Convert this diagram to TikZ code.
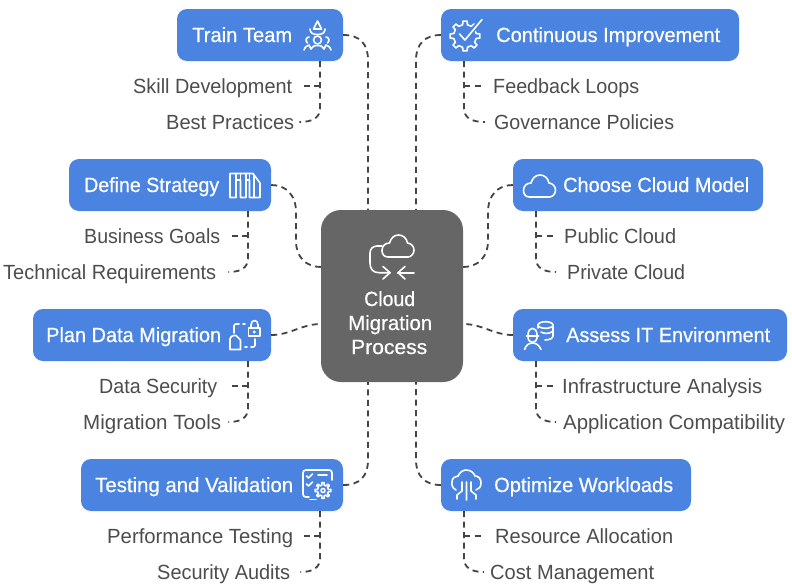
\documentclass[tikz,border=0pt]{standalone}
\usepackage{fontspec}
\usepackage{graphicx}
\setmainfont{Liberation Sans}
\newfontfamily\medfont[RawFeature={embolden=0.6}]{Liberation Sans}
\definecolor{boxblue}{HTML}{4A84E0}
\definecolor{centgray}{HTML}{666666}
\definecolor{labgray}{HTML}{4D4D4D}
\definecolor{linegray}{HTML}{444444}
\tikzset{
  bluebox/.style={draw=none,fill=boxblue,rounded corners=10pt,inner sep=0pt},
  dashline/.style={draw=linegray,line width=1.8pt,dash pattern=on 6pt off 4.5pt},
  ico/.style={draw=white,line width=1.6pt,line cap=round,line join=round},
  sublab/.style={text=labgray,font=\fontsize{20.5}{22}\selectfont},
  boxlab/.style={text=white,font=\medfont\fontsize{20.5}{22}\selectfont},
}
% name x0 x1 ycentre text
\newcommand\lbl[6][sublab]{\node[#1,anchor=base west,inner sep=0pt] (#2) at (#3,#5+7) {\resizebox{\dimexpr#4pt-#3pt\relax}{\height}{#6}};}
\newcommand\cogshape[2]{\draw[ico] (-12+0:#1) \foreach \a in {0,45,...,315} {-- (\a-12:#1) -- (\a-8:#2) -- (\a+8:#2) -- (\a+12:#1)} -- cycle;}
\newcommand\cloudshape{(6,22) .. controls (2,22) and (0,19) .. (0,15.5) .. controls (0,11) and (3,8) .. (7.5,8) .. controls (9,3) and (12,0) .. (16.5,0) .. controls (21,0) and (24.5,3) .. (25.5,8) .. controls (29,8.5) and (32,11) .. (32,15) .. controls (32,19) and (29,22) .. (26,22) -- cycle}
\begin{document}
\begin{tikzpicture}[x=1pt,y=-1pt]
\useasboundingbox[fill=white] (0,0) rectangle (792,584);

% boxes
\node[fill=centgray,rounded corners=20pt,minimum width=142pt,minimum height=172pt,inner sep=0pt] (cent) at (392,296) {};
\node[bluebox,minimum width=166pt,minimum height=52pt] (tt) at (260,35) {};
\node[bluebox,minimum width=298pt,minimum height=52pt] (ci) at (590,35) {};
\node[bluebox,minimum width=202pt,minimum height=52pt] (ds) at (170,185) {};
\node[bluebox,minimum width=250pt,minimum height=52pt] (cc) at (638,185) {};
\node[bluebox,minimum width=238pt,minimum height=52pt] (pd) at (152,335) {};
\node[bluebox,minimum width=274pt,minimum height=52pt] (ai) at (650,335) {};
\node[bluebox,minimum width=262pt,minimum height=52pt] (tv) at (212,485) {};
\node[bluebox,minimum width=250pt,minimum height=52pt] (ow) at (566,485) {};

% box labels
\lbl[boxlab]{ttl}{192}{292}{35}{Train Team}
\lbl[boxlab]{cil}{496}{720}{35}{Continuous Improvement}
\lbl[boxlab]{dsl}{84}{219}{185}{Define Strategy}
\lbl[boxlab]{ccl}{563}{749}{185}{Choose Cloud Model}
\lbl[boxlab]{pdl}{46}{221}{335}{Plan Data Migration}
\lbl[boxlab]{ail}{566}{770}{335}{Assess IT Environment}
\lbl[boxlab]{tvl}{95}{293}{485}{Testing and Validation}
\lbl[boxlab]{owl}{494}{673}{485}{Optimize Workloads}
\lbl[boxlab]{c1}{364}{415}{299}{Cloud}
\lbl[boxlab]{c2}{348}{432}{323}{Migration}
\lbl[boxlab]{c3}{351}{427}{347}{Process}

% sub labels
\lbl{a1}{133}{292}{86}{Skill Development}
\lbl{a2}{166}{294}{122}{Best Practices}
\lbl{b1}{493}{639}{86}{Feedback Loops}
\lbl{b2}{494}{674}{122}{Governance Policies}
\lbl{d1}{84}{220}{236}{Business Goals}
\lbl{d2}{3}{216}{272}{Technical Requirements}
\lbl{e1}{564}{676}{236}{Public Cloud}
\lbl{e2}{567}{685}{272}{Private Cloud}
\lbl{f1}{99}{217}{386}{Data Security}
\lbl{f2}{83}{221}{422}{Migration Tools}
\lbl{g1}{562}{762}{386}{Infrastructure Analysis}
\lbl{g2}{563}{785}{422}{Application Compatibility}
\lbl{h1}{107}{293}{536}{Performance Testing}
\lbl{h2}{157}{290}{572}{Security Audits}
\lbl{i1}{495}{673}{536}{Resource Allocation}
\lbl{i2}{490}{654}{572}{Cost Management}

% main connectors
\coordinate (xl) at (368,0);
\coordinate (xr) at (416,0);
\coordinate (lhi) at (cent.west |- 0,267);
\coordinate (rhi) at (cent.east |- 0,267);
\coordinate (lmid) at (cent.west |- 0,324);
\coordinate (rmid) at (cent.east |- 0,324);
\draw[dashline] (tt.east) .. controls (360,35) and (368,44) .. (368,60) -- (xl |- cent.north);
\draw[dashline] (ci.west) .. controls (425,35) and (416,44) .. (416,60) -- (xr |- cent.north);
\draw[dashline] (ds.east) .. controls (286,185) and (296,195) .. (296,212) -- (296,241) .. controls (296,257) and (306,267) .. (lhi);
\draw[dashline] (cc.west) .. controls (498,185) and (488,195) .. (488,212) -- (488,241) .. controls (488,257) and (478,267) .. (rhi);
\draw[dashline] (pd.east) .. controls (290,335) and (302,324) .. (lmid);
\draw[dashline] (ai.west) .. controls (494,335) and (482,324) .. (rmid);
\draw[dashline] (tv.east) .. controls (360,485) and (368,476) .. (368,460) -- (xl |- cent.south);
\draw[dashline] (ow.west) .. controls (425,485) and (416,476) .. (416,460) -- (xr |- cent.south);

% sub connectors
\coordinate (j1) at (320,86);
\draw[dashline] (j1 |- tt.south) -- (320,108) .. controls (320,117) and (314,122) .. ([xshift=5pt]a2.east |- 0,122);
\draw[dashline] (j1) -- ([xshift=10pt]a1.east |- j1);
\coordinate (j2) at (464,86);
\draw[dashline] (j2 |- ci.south) -- (464,108) .. controls (464,117) and (470,122) .. ([xshift=-9pt]b2.west |- 0,122);
\draw[dashline] (j2) -- ([xshift=-9pt]b1.west |- j2);
\coordinate (j3) at (248,236);
\draw[dashline] (j3 |- ds.south) -- (248,258) .. controls (248,267) and (242,272) .. ([xshift=12pt]d2.east |- 0,272);
\draw[dashline] (j3) -- ([xshift=9pt]d1.east |- j3);
\coordinate (j4) at (536,236);
\draw[dashline] (j4 |- cc.south) -- (536,258) .. controls (536,267) and (542,272) .. ([xshift=-11pt]e2.west |- 0,272);
\draw[dashline] (j4) -- ([xshift=-8pt]e1.west |- j4);
\coordinate (j5) at (248,386);
\draw[dashline] (j5 |- pd.south) -- (248,408) .. controls (248,417) and (242,422) .. ([xshift=7pt]f2.east |- 0,422);
\draw[dashline] (j5) -- ([xshift=13pt]f1.east |- j5);
\coordinate (j6) at (536,386);
\draw[dashline] (j6 |- ai.south) -- (536,408) .. controls (536,417) and (542,422) .. ([xshift=-7pt]g2.west |- 0,422);
\draw[dashline] (j6) -- ([xshift=-6pt]g1.west |- j6);
\coordinate (j7) at (320,536);
\draw[dashline] (j7 |- tv.south) -- (320,558) .. controls (320,567) and (314,572) .. ([xshift=10pt]h2.east |- 0,572);
\draw[dashline] (j7) -- ([xshift=9pt]h1.east |- j7);
\coordinate (j8) at (464,536);
\draw[dashline] (j8 |- ow.south) -- (464,558) .. controls (464,567) and (470,572) .. ([xshift=-6pt]i2.west |- 0,572);
\draw[dashline] (j8) -- ([xshift=-11pt]i1.west |- j8);

% --- icons ---
% centre
\begin{scope}[shift={(382,235)}]\draw[ico] \cloudshape;\end{scope}
\draw[ico] (382,246) -- (377,246) .. controls (373,246) and (370,249) .. (370,253) -- (370,263) .. controls (370,269) and (373,272.7) .. (379,272.7) -- (390,272.7);
\draw[ico] (383,266.5) -- (390,272.7) -- (383,279);
\draw[ico] (414,272.7) -- (398,272.7);
\draw[ico] (405,266.5) -- (398,272.7) -- (405,279);

% train team
\draw[ico] (317.5,21) -- (313.5,29) -- (321.5,29) -- cycle;
\draw[ico] (310,29) .. controls (310,33) and (313,34.5) .. (317.5,34.5) .. controls (322,34.5) and (325,33) .. (325,29);
\draw[ico] (317.5,40) circle[radius=4];
\draw[ico] (304,50) .. controls (305,46.5) and (307,46) .. (309,45) -- (311,49) .. controls (312,46.5) and (314,45.5) .. (317.5,45.5) .. controls (321,45.5) and (323,46.5) .. (324,49) -- (326,45) .. controls (328,46) and (330,46.5) .. (331,50);
\draw[ico] (309,37) .. controls (306,37) and (305,41) .. (307.5,43);
\draw[ico] (326,37) .. controls (329,37) and (330,41) .. (327.5,43);

% continuous improvement
\begin{scope}[shift={(465,36)}]\cogshape{11.5}{15}\end{scope}
\draw[boxblue,line width=5pt,line cap=round] (469,34) -- (482,20);
\draw[ico] (459.5,34) -- (465,40) -- (482,19.5);

% define strategy
\draw[ico] (230,197.5) -- (230,173.5) -- (253,173.5) -- (260,183) -- (260,197.5) -- (249.5,197.5) -- (249.5,180) -- (246,180) -- (246,197.5) -- (240.5,197.5) -- (240.5,180) -- (236,180) -- (236,197.5) -- cycle;
\draw[ico] (236,173.5) -- (236,180) (240.5,173.5) -- (240.5,180) (246,173.5) -- (246,180) (249.5,173.5) -- (249.5,180) (254,175) -- (254,197.5);

% choose cloud
\begin{scope}[shift={(523.5,175)}]\draw[ico] \cloudshape;\end{scope}

% plan data
\draw[ico] (248.5,328) rectangle (260,336);
\fill[white] (254.2,332) circle[radius=1.6];
\draw[ico] (251,328) -- (251,325) .. controls (251,319) and (258,319) .. (258,325) -- (258,328);
\draw[ico] (234,333) -- (234,326) .. controls (234,325) and (235,324) .. (236,324) -- (239,324) (243,324) -- (245,324);
\draw[ico] (255,339) -- (255,345) .. controls (255,346) and (254,347) .. (253,347) -- (251,347) (247,347) -- (245,347);
\draw[ico] (230,349) -- (230,339) .. controls (230,337) and (232,335.5) .. (234,335.5) -- (236,335.5) -- (240.5,340) -- (240.5,349.5) -- (230,349.5) -- cycle;

% assess
\draw[ico] (545.5,325) ellipse[x radius=7.5,y radius=3.3];
\draw[ico] (538,325) -- (538,328) (553,325) -- (553,336) .. controls (553,338) and (550,340) .. (545,340);
\draw[ico] (541,332) .. controls (544,334) and (550,334) .. (553,331);
\draw[ico] (526.5,336) -- (538.5,336);
\draw[ico] (528,335) .. controls (528,326) and (537,326) .. (537,335);
\draw[ico] (528,337) .. controls (528,344) and (537,344) .. (537,337);
\draw[ico] (524.5,349.5) .. controls (526,345) and (529,343) .. (532.5,343) .. controls (536,343) and (539,345) .. (541,349.5);

% testing
\draw[ico] (309,497) -- (306,497) .. controls (304,497) and (303,496) .. (303,494) -- (303,473) .. controls (303,471) and (304,470) .. (306,470) -- (329,470) .. controls (331,470) and (332,471) .. (332,473) -- (332,480);
\draw[ico] (306.5,476) -- (308.5,478) -- (312.5,474) (306.5,484) -- (308.5,486) -- (312.5,482) (318,475) -- (327,475);
\draw[ico] (310,499.5) -- (316,499.5);
\begin{scope}[shift={(323,490.5)}]\cogshape{5.5}{8}\draw[ico] (0,0) circle[radius=2];\end{scope}

% optimize
\draw[ico] (456,490) .. controls (452,488) and (451.5,484) .. (452,482) .. controls (452,478) and (455,476) .. (458,476) .. controls (460,472) and (463,470) .. (466,470) .. controls (471,470) and (474,473) .. (475,476) .. controls (479,476) and (481,479) .. (481,483) .. controls (481,487) and (479,489) .. (476,490);
\draw[ico] (466.5,482) -- (466.5,500) (462,482) -- (462,491) -- (457,495) -- (457,499) (471,482) -- (471,491) -- (476,495) -- (476,499);
\end{tikzpicture}
\end{document}
